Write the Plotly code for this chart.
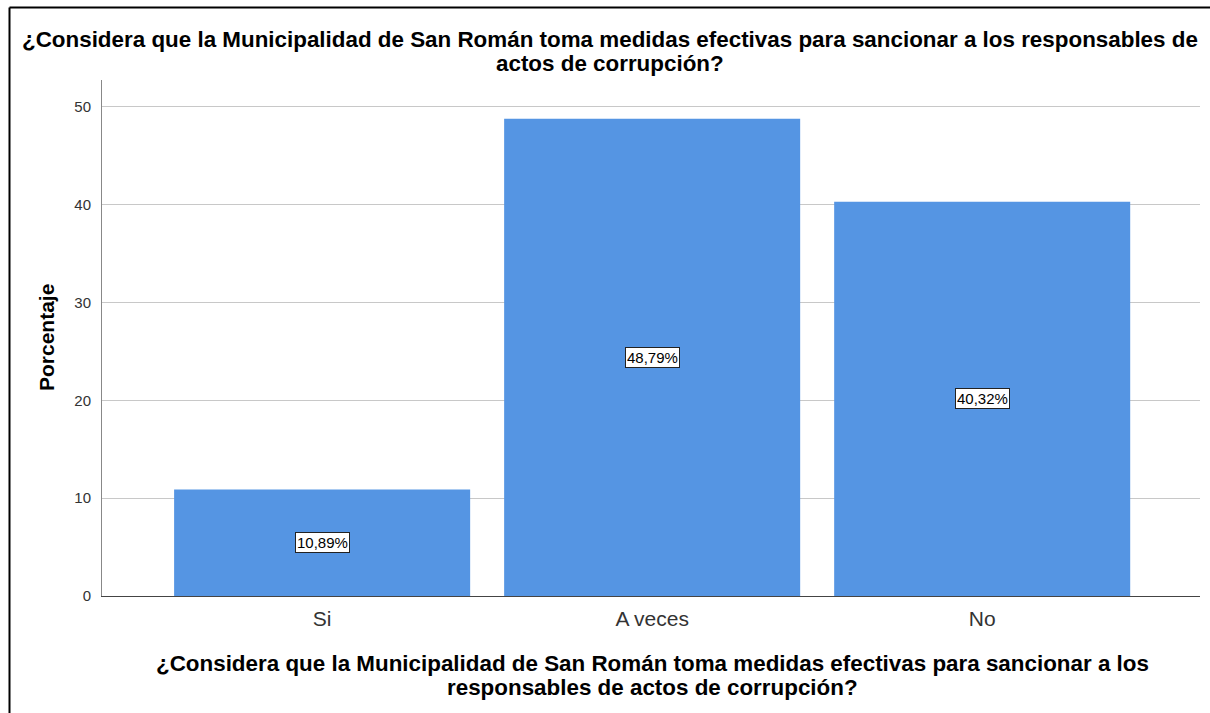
import plotly.graph_objects as go

categories = ["Si", "A veces", "No"]
values = [10.89, 48.79, 40.32]
labels = ["10,89%", "48,79%", "40,32%"]
yticks = [0, 10, 20, 30, 40, 50]

title_lines = ["¿Considera que la Municipalidad de San Román toma medidas efectivas para sancionar a los responsables de",
               "actos de corrupción?"]
xtitle_lines = ["¿Considera que la Municipalidad de San Román toma medidas efectivas para sancionar a los",
                "responsables de actos de corrupción?"]
ytitle = "Porcentaje"

W, H = 1210, 713
L, R, T, B = 102, 10, 80, 117
pw, ph = W - L - R, H - T - B

def px_x(x):
    return (x - L) / pw

def px_y(y):
    return (H - B - y) / ph

fig = go.Figure()
fig.add_trace(go.Bar(x=categories, y=values, marker=dict(color="#5595E3", line=dict(width=0)),
                     width=0.897, hoverinfo="skip"))

annotations = []
for c, v, lab in zip(categories, values, labels):
    annotations.append(dict(x=c, y=v / 2, xref="x", yref="y", text=lab, showarrow=False,
                            font=dict(family="Liberation Sans, Arial", size=15, color="#000"),
                            bgcolor="white", bordercolor="#222", borderwidth=1, borderpad=1))

bold = "Liberation Sans, Arial"
for i, line in enumerate(title_lines):
    annotations.append(dict(x=px_x(610), y=px_y(39.5 + 24 * i), xref="paper", yref="paper",
                            text="<b>" + line + "</b>", showarrow=False, xanchor="center", yanchor="middle",
                            font=dict(family=bold, size=22.4, color="#000")))
for i, line in enumerate(xtitle_lines):
    annotations.append(dict(x=px_x(652), y=px_y(663 + 24 * i), xref="paper", yref="paper",
                            text="<b>" + line + "</b>", showarrow=False, xanchor="center", yanchor="middle",
                            font=dict(family=bold, size=22.4, color="#000")))
annotations.append(dict(x=px_x(46), y=px_y(337), xref="paper", yref="paper", text="<b>" + ytitle + "</b>",
                        showarrow=False, textangle=-90, xanchor="center", yanchor="middle",
                        font=dict(family=bold, size=21, color="#000")))

shapes = [
    dict(type="line", xref="paper", yref="paper", x0=px_x(9.5), x1=px_x(1215), y0=px_y(7.5), y1=px_y(7.5),
         line=dict(color="#000", width=2)),
    dict(type="line", xref="paper", yref="paper", x0=px_x(9.5), x1=px_x(9.5), y0=px_y(7.5), y1=px_y(720),
         line=dict(color="#000", width=2)),
]

fig.update_layout(
    width=W, height=H, margin=dict(l=L, r=R, t=T, b=B, autoexpand=False),
    paper_bgcolor="white", plot_bgcolor="white", showlegend=False,
    annotations=annotations, shapes=shapes,
    xaxis=dict(range=[-0.667, 2.66], showgrid=False, showline=True, linecolor="#444", linewidth=1,
               ticks="", ticklabelstandoff=4,
               tickfont=dict(family="Liberation Sans, Arial", size=21, color="#333"),
               fixedrange=True),
    yaxis=dict(range=[0, 52.76], tickvals=yticks, showgrid=True, gridcolor="#c8c8c8", gridwidth=1,
               showline=True, linecolor="#888", linewidth=1, ticks="", ticklabelstandoff=7,
               tickfont=dict(family="Liberation Sans, Arial", size=15, color="#333"), zeroline=False,
               fixedrange=True),
    bargap=0.103,
)
fig.write_html("out.html", config={"displayModeBar": False},
               post_script="document.body.style.margin='0';document.body.style.padding='0';")
